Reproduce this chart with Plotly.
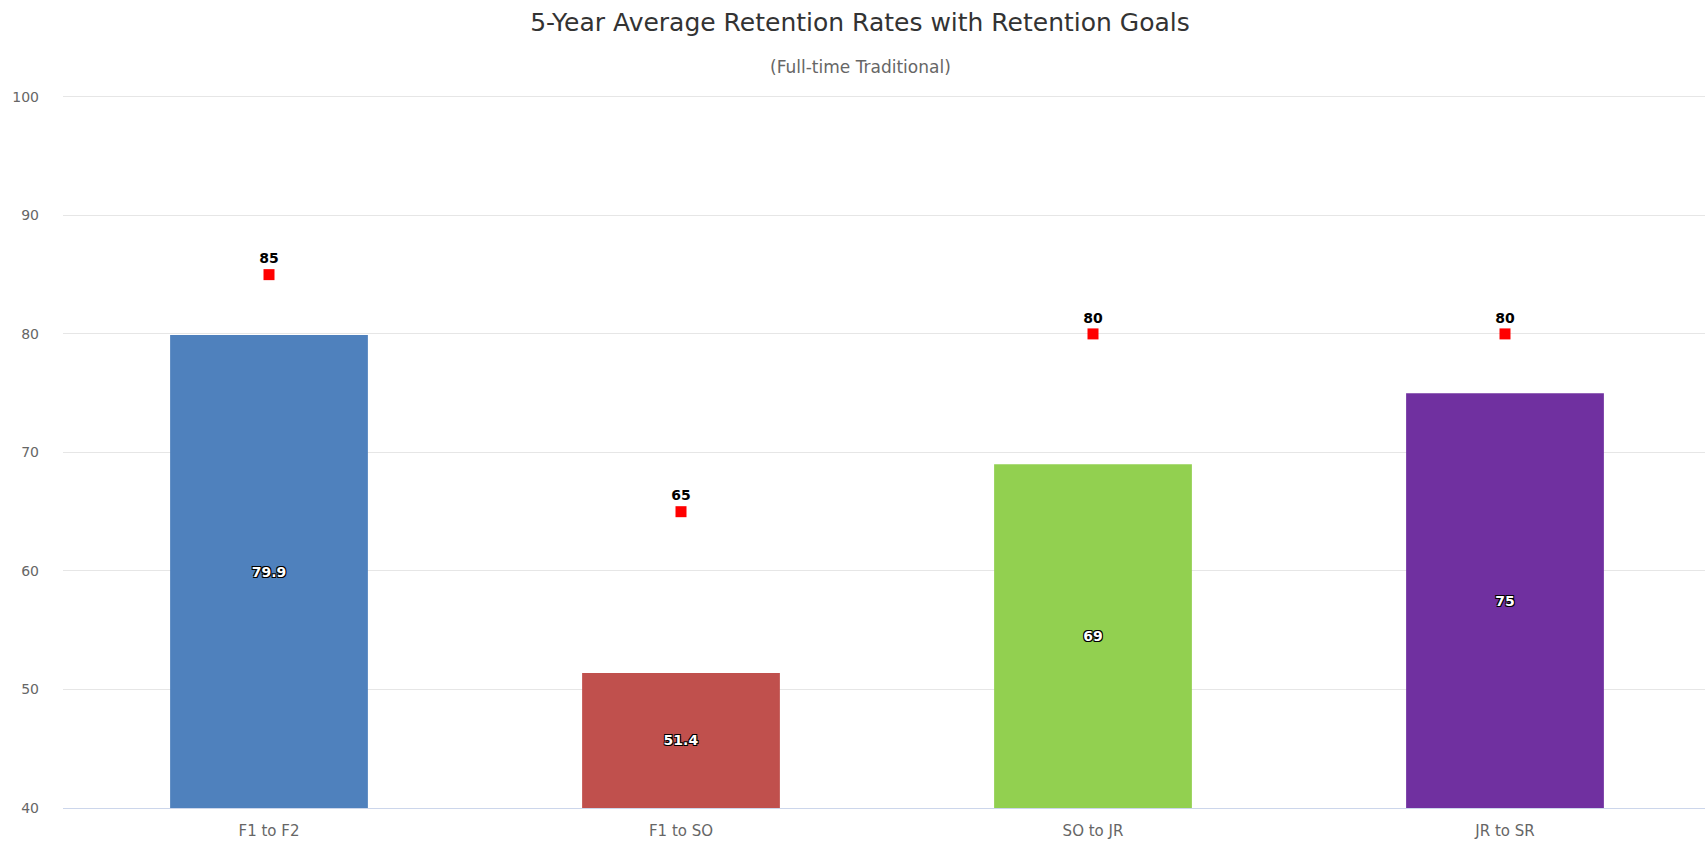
import plotly.graph_objects as go

categories = ["F1 to F2", "F1 to SO", "SO to JR", "JR to SR"]
avg_rates = [79.9, 51.4, 69, 75]
goals = [85, 65, 80, 80]
bar_colors = ["#4F81BD", "#C0504D", "#92D050", "#7030A0"]
y_ticks = [40, 50, 60, 70, 80, 90, 100]

Y_MIN, Y_MAX = 40, 100
Y_PAD = 1  # extra headroom so the 100 gridline is drawn

W, H = 1705, 844
PX_PER_UNIT = 11.85
MB = 36
MT = int(round(97 - Y_PAD * PX_PER_UNIT))
ML, MR = 63, 0

fig = go.Figure()

fig.add_trace(go.Bar(
    x=categories,
    y=[v - Y_MIN for v in avg_rates],
    base=[Y_MIN] * len(avg_rates),
    width=0.48,
    marker=dict(color=bar_colors, line=dict(width=0)),
    text=[f"{v:g}" for v in avg_rates],
    textposition="inside",
    insidetextanchor="middle",
    insidetextfont=dict(
        family="DejaVu Sans", size=14, color="white", weight="bold",
        shadow="-1px -1px 0 #000, 1px -1px 0 #000, -1px 1px 0 #000, 1px 1px 0 #000",
    ),
    constraintext="none",
    hoverinfo="skip",
    showlegend=False,
))

fig.add_trace(go.Scatter(
    x=categories,
    y=goals,
    mode="markers+text",
    marker=dict(symbol="square", size=11, color="#FF0000"),
    text=[f"{g:g}" for g in goals],
    textposition="top center",
    textfont=dict(family="DejaVu Sans", size=14, color="#000000", weight="bold"),
    cliponaxis=False,
    showlegend=False,
))

plot_w = W - ML - MR
plot_h = H - MT - MB
cat_px = 412.0
x_max = -0.5 + plot_w / cat_px

TITLE_CX = 860

fig.update_layout(
    width=W, height=H,
    margin=dict(l=ML, r=MR, t=MT, b=MB, pad=0),
    paper_bgcolor="white",
    plot_bgcolor="white",
    title=dict(
        text="5-Year Average Retention Rates with Retention Goals",
        x=TITLE_CX / W, xref="container", xanchor="center",
        y=1 - 22 / H, yref="container", yanchor="middle",
        font=dict(family="DejaVu Sans", size=25, color="#333333"),
    ),
    annotations=[dict(
        text="(Full-time Traditional)",
        x=(TITLE_CX - ML) / plot_w, xref="paper", xanchor="center",
        y=(H - MB - 67) / plot_h, yref="paper", yanchor="middle",
        showarrow=False,
        font=dict(family="DejaVu Sans", size=17, color="#666666"),
    )],
    xaxis=dict(
        type="category",
        range=[-0.5, x_max],
        showgrid=False,
        showline=True, linecolor="#CCD6EB", linewidth=1,
        ticks="",
        ticklabelstandoff=9,
        tickfont=dict(family="DejaVu Sans", size=15, color="#666666"),
        zeroline=False,
        automargin=False,
    ),
    yaxis=dict(
        range=[Y_MIN, Y_MAX + Y_PAD],
        tickvals=y_ticks,
        showgrid=True, gridcolor="#E6E6E6", gridwidth=1,
        showline=False, zeroline=False,
        ticks="",
        ticklabelstandoff=23,
        tickfont=dict(family="DejaVu Sans", size=14, color="#666666"),
        automargin=False,
    ),
)

fig.write_html(
    "out.html",
    config={"displayModeBar": False},
    post_script="document.body.style.margin='0px';document.body.style.overflow='hidden';",
)
